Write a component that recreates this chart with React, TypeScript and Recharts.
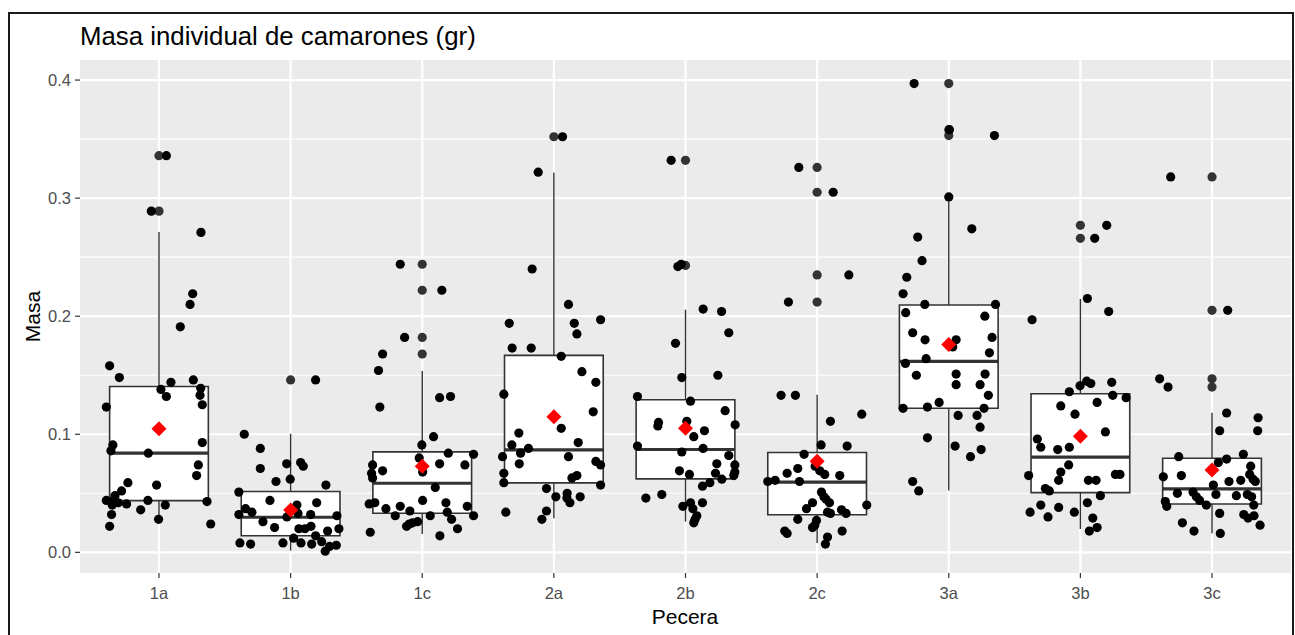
import React from 'react';
import { ComposedChart, Scatter, XAxis, YAxis, CartesianGrid, ReferenceArea, ReferenceLine } from 'recharts';

const groups = ['1a', '1b', '1c', '2a', '2b', '2c', '3a', '3b', '3c'];
const xTicks = [1, 2, 3, 4, 5, 6, 7, 8, 9];
const majorY = [0, 0.1, 0.2, 0.3, 0.4];
const minorY = [0.05, 0.15, 0.25, 0.35];

// masses (gr) and horizontal jitter of each shrimp, per tank
const m1a = [0.336, 0.289, 0.271, 0.219, 0.210, 0.191, 0.158, 0.148, 0.144, 0.146, 0.138, 0.139, 0.132, 0.133, 0.123, 0.125, 0.093, 0.091, 0.086, 0.084, 0.074, 0.065, 0.059, 0.057, 0.052, 0.048, 0.044, 0.044, 0.042, 0.041, 0.040, 0.044, 0.040, 0.043, 0.036, 0.032, 0.028, 0.022, 0.024];
const j1a = [0.056, -0.058, 0.319, 0.256, 0.236, 0.162, -0.375, -0.301, 0.091, 0.261, 0.015, 0.317, 0.056, 0.312, -0.400, 0.329, 0.329, -0.350, -0.365, -0.081, 0.299, 0.286, -0.236, -0.018, -0.284, -0.334, -0.400, -0.344, -0.309, -0.246, -0.355, -0.084, 0.048, 0.365, -0.139, -0.360, -0.003, -0.375, 0.393];
const m1b = [0.146, 0.100, 0.088, 0.071, 0.075, 0.076, 0.073, 0.060, 0.062, 0.057, 0.051, 0.044, 0.042, 0.040, 0.037, 0.032, 0.034, 0.033, 0.026, 0.030, 0.032, 0.031, 0.021, 0.020, 0.020, 0.022, 0.020, 0.014, 0.018, 0.012, 0.008, 0.007, 0.008, 0.008, 0.007, 0.009, 0.005, 0.006, 0.001];
const j1b = [0.190, -0.352, -0.230, -0.230, -0.030, 0.076, 0.096, -0.111, -0.003, 0.268, -0.393, -0.157, 0.198, 0.048, -0.342, -0.393, -0.294, 0.056, -0.210, -0.028, 0.152, 0.352, -0.122, 0.063, 0.109, 0.155, 0.367, 0.190, 0.281, 0.023, -0.385, -0.304, -0.058, 0.079, 0.160, 0.236, 0.296, 0.347, 0.263];
const m1c = [0.244, 0.222, 0.182, 0.168, 0.154, 0.123, 0.131, 0.132, 0.098, 0.091, 0.084, 0.083, 0.080, 0.075, 0.074, 0.074, 0.069, 0.067, 0.068, 0.063, 0.055, 0.041, 0.042, 0.037, 0.044, 0.042, 0.039, 0.039, 0.035, 0.031, 0.031, 0.034, 0.031, 0.028, 0.026, 0.025, 0.024, 0.022, 0.020, 0.017, 0.014];
const j1c = [-0.167, 0.149, -0.134, -0.301, -0.332, -0.322, 0.132, 0.215, 0.086, -0.003, 0.198, 0.390, -0.023, 0.132, 0.324, -0.377, -0.301, -0.385, 0.003, -0.377, 0.099, -0.403, -0.360, -0.276, 0.003, 0.180, 0.342, -0.167, -0.094, -0.205, 0.061, 0.190, 0.390, 0.223, -0.035, -0.073, -0.099, -0.119, 0.268, -0.395, 0.134];
const m2a = [0.352, 0.322, 0.240, 0.210, 0.194, 0.194, 0.197, 0.185, 0.173, 0.173, 0.166, 0.153, 0.144, 0.134, 0.119, 0.105, 0.101, 0.091, 0.093, 0.084, 0.088, 0.081, 0.081, 0.077, 0.074, 0.075, 0.067, 0.063, 0.065, 0.059, 0.057, 0.054, 0.047, 0.050, 0.046, 0.042, 0.047, 0.034, 0.035, 0.028];
const j2a = [0.066, -0.119, -0.165, 0.111, -0.339, 0.155, 0.355, 0.175, -0.317, -0.172, 0.056, 0.213, 0.319, -0.380, 0.299, 0.056, -0.266, -0.319, 0.185, -0.253, -0.193, -0.390, 0.111, 0.319, 0.355, -0.263, -0.380, 0.137, 0.175, -0.380, 0.355, -0.056, 0.015, 0.101, 0.099, 0.122, 0.200, -0.365, -0.056, -0.091];
const m2b = [0.332, 0.242, 0.244, 0.206, 0.204, 0.186, 0.177, 0.148, 0.150, 0.132, 0.128, 0.120, 0.110, 0.107, 0.111, 0.108, 0.098, 0.103, 0.090, 0.085, 0.088, 0.082, 0.075, 0.074, 0.069, 0.066, 0.067, 0.068, 0.065, 0.062, 0.059, 0.056, 0.046, 0.049, 0.042, 0.042, 0.039, 0.037, 0.031, 0.028, 0.025];
const j2b = [-0.109, -0.058, -0.033, 0.134, 0.274, 0.329, -0.076, -0.028, 0.246, -0.365, 0.038, 0.301, -0.205, -0.210, 0.010, 0.377, 0.063, 0.144, -0.365, -0.028, 0.134, 0.329, 0.238, 0.375, -0.046, 0.030, 0.228, 0.375, 0.367, 0.276, 0.185, 0.129, -0.301, -0.180, 0.038, 0.129, -0.020, 0.056, 0.086, 0.073, 0.063];
const m2c = [0.326, 0.305, 0.235, 0.212, 0.133, 0.133, 0.117, 0.111, 0.091, 0.090, 0.083, 0.071, 0.073, 0.067, 0.069, 0.066, 0.065, 0.060, 0.061, 0.060, 0.051, 0.047, 0.045, 0.042, 0.042, 0.037, 0.040, 0.034, 0.033, 0.036, 0.033, 0.028, 0.027, 0.023, 0.021, 0.018, 0.016, 0.018, 0.013, 0.007];
const j2c = [-0.139, 0.122, 0.241, -0.218, -0.274, -0.165, 0.339, 0.101, 0.030, 0.228, -0.099, -0.147, -0.015, -0.228, 0.020, 0.058, 0.172, -0.375, -0.319, -0.134, 0.033, 0.051, 0.068, 0.094, -0.035, -0.081, 0.377, 0.079, 0.101, 0.185, 0.220, -0.147, -0.005, -0.018, -0.035, -0.246, -0.228, 0.190, 0.079, 0.063];
const m3a = [0.397, 0.358, 0.353, 0.301, 0.274, 0.267, 0.247, 0.233, 0.219, 0.210, 0.210, 0.203, 0.200, 0.186, 0.180, 0.180, 0.182, 0.174, 0.169, 0.164, 0.160, 0.150, 0.151, 0.151, 0.142, 0.142, 0.133, 0.127, 0.122, 0.123, 0.122, 0.116, 0.116, 0.106, 0.097, 0.090, 0.087, 0.081, 0.060, 0.052];
const j3a = [-0.263, 0.005, 0.347, 0.000, 0.175, -0.236, -0.203, -0.319, -0.347, -0.182, 0.355, -0.327, 0.274, -0.274, -0.180, 0.056, 0.329, 0.030, 0.309, -0.172, -0.329, -0.246, 0.056, 0.276, 0.056, 0.238, 0.301, -0.073, -0.347, -0.162, 0.268, 0.071, 0.215, 0.238, -0.162, 0.048, 0.246, 0.165, -0.274, -0.228];
const m3b = [0.277, 0.266, 0.215, 0.204, 0.197, 0.141, 0.145, 0.143, 0.136, 0.144, 0.133, 0.131, 0.127, 0.124, 0.117, 0.102, 0.096, 0.089, 0.087, 0.089, 0.074, 0.068, 0.065, 0.061, 0.061, 0.061, 0.066, 0.066, 0.054, 0.052, 0.048, 0.040, 0.042, 0.038, 0.034, 0.030, 0.034, 0.029, 0.018, 0.021];
const j3b = [0.200, 0.109, 0.053, 0.215, -0.367, -0.003, 0.048, 0.079, -0.084, 0.238, 0.246, 0.347, 0.127, -0.149, -0.041, 0.190, -0.327, -0.301, -0.172, -0.084, -0.089, -0.149, -0.393, -0.165, 0.061, 0.119, 0.266, 0.301, -0.266, -0.236, 0.152, -0.301, 0.053, -0.165, -0.382, -0.246, -0.046, 0.094, 0.068, 0.127];
const m3c = [0.318, 0.205, 0.147, 0.140, 0.118, 0.114, 0.103, 0.103, 0.081, 0.083, 0.079, 0.076, 0.073, 0.064, 0.065, 0.066, 0.062, 0.060, 0.061, 0.060, 0.057, 0.050, 0.051, 0.047, 0.044, 0.049, 0.048, 0.049, 0.047, 0.043, 0.039, 0.040, 0.040, 0.033, 0.025, 0.032, 0.029, 0.031, 0.018, 0.016, 0.023];
const j3c = [-0.314, 0.119, -0.398, -0.334, 0.111, 0.350, 0.058, 0.347, -0.253, 0.238, 0.111, 0.048, 0.294, -0.370, -0.233, 0.286, 0.312, 0.329, 0.218, 0.129, 0.010, -0.263, -0.144, -0.119, -0.094, 0.030, 0.185, 0.268, 0.301, -0.355, -0.344, -0.043, 0.317, 0.058, -0.225, 0.241, 0.274, 0.319, -0.137, 0.063, 0.365];

// boxplot stats
const q1 = [0.0438, 0.0141, 0.0331, 0.0588, 0.0622, 0.0319, 0.1221, 0.0506, 0.0410];
const medians = [0.0840, 0.0297, 0.0585, 0.0868, 0.0871, 0.0594, 0.1617, 0.0806, 0.0537];
const q3 = [0.1405, 0.0515, 0.0851, 0.1668, 0.1292, 0.0845, 0.2095, 0.1343, 0.0797];
const whiskerLow = [0.026, 0.0014, 0.0155, 0.0288, 0.026, 0.0079, 0.0523, 0.0198, 0.0161];
const whiskerHigh = [0.2714, 0.1004, 0.1535, 0.3217, 0.2055, 0.1334, 0.3011, 0.2146, 0.1182];
const means = [0.1046, 0.0359, 0.0729, 0.1148, 0.1052, 0.0772, 0.1761, 0.0984, 0.0698];
const outliers = [
    [0.336, 0.289],
    [0.146],
    [0.244, 0.222, 0.182, 0.168],
    [0.352],
    [0.332, 0.243],
    [0.326, 0.305, 0.235, 0.212],
    [0.397, 0.358, 0.353],
    [0.277, 0.266],
    [0.318, 0.205, 0.147, 0.140],
];

const masses = [m1a, m1b, m1c, m2a, m2b, m2c, m3a, m3b, m3c];
const jitters = [j1a, j1b, j1c, j2a, j2b, j2c, j3a, j3b, j3c];

const BOX_HALF = 0.375;
const FONT = '"Liberation Sans", Arial, sans-serif';

const pointData = masses.flatMap((ms, i) => ms.map((m, k) => ({ x: i + 1 + jitters[i][k], y: m })));
const outlierData = outliers.flatMap((os, i) => os.map((o) => ({ x: i + 1, y: o })));
const meanData = means.map((m, i) => ({ x: i + 1, y: m }));

const dot = (color: string) => (props: any) => (
    <circle cx={props.cx} cy={props.cy} r={4.6} fill={color} />
);

const diamond = (props: any) => {
    const { cx, cy } = props;
    const d = 7.5;
    return <polygon points={`${cx},${cy - d} ${cx + d},${cy} ${cx},${cy + d} ${cx - d},${cy}`} fill="#FF0000" />;
};

export default function App() {
    return (
        <div style={{ position: 'absolute', left: 0, top: 0, width: 1295, height: 635, background: '#fff', overflow: 'hidden', fontFamily: FONT }}>
            <div style={{ position: 'absolute', left: 8, top: 12, width: 1286, height: 700, border: '2px solid #1a1a1a', boxSizing: 'border-box' }} />
            <div style={{ position: 'absolute', left: 0, top: 0 }}>
                <ComposedChart width={1295} height={635} margin={{ top: 60, right: 4, bottom: 0, left: 0 }}>
                    <CartesianGrid fill="#EBEBEB" fillOpacity={1} stroke="#FFFFFF" strokeWidth={2.2} horizontalValues={majorY} verticalValues={xTicks} />
                    <CartesianGrid stroke="#FFFFFF" strokeWidth={1.1} horizontalValues={minorY} vertical={false} />
                    <XAxis
                        type="number"
                        dataKey="x"
                        domain={[0.4, 9.6]}
                        ticks={xTicks}
                        interval={0}
                        allowDataOverflow
                        height={62}
                        axisLine={false}
                        tickSize={5}
                        tickMargin={9}
                        tickLine={{ stroke: '#333333', strokeWidth: 1.2 }}
                        tick={{ fill: '#4D4D4D', fontSize: 16.5, fontFamily: FONT }}
                        tickFormatter={(v: number) => groups[v - 1]}
                    />
                    <YAxis
                        type="number"
                        dataKey="y"
                        domain={[-0.0175, 0.417]}
                        ticks={majorY}
                        interval={0}
                        allowDataOverflow
                        width={80}
                        axisLine={false}
                        tickSize={5}
                        tickMargin={4}
                        tickLine={{ stroke: '#333333', strokeWidth: 1.2 }}
                        tick={{ fill: '#4D4D4D', fontSize: 16.5, fontFamily: FONT }}
                        tickFormatter={(v: number) => v.toFixed(1)}
                    />
                    {xTicks.map((x, i) => (
                        <ReferenceLine
                            key={`wl-${i}`}
                            segment={[{ x, y: whiskerLow[i] }, { x, y: q1[i] }]}
                            stroke="#333333"
                            strokeWidth={1.4}
                            zIndex={90}
                        />
                    ))}
                    {xTicks.map((x, i) => (
                        <ReferenceLine
                            key={`wh-${i}`}
                            segment={[{ x, y: q3[i] }, { x, y: whiskerHigh[i] }]}
                            stroke="#333333"
                            strokeWidth={1.4}
                            zIndex={90}
                        />
                    ))}
                    {xTicks.map((x, i) => (
                        <ReferenceArea
                            key={`box-${i}`}
                            x1={x - BOX_HALF}
                            x2={x + BOX_HALF}
                            y1={q1[i]}
                            y2={q3[i]}
                            fill="#FFFFFF"
                            fillOpacity={1}
                            stroke="#333333"
                            strokeWidth={1.6}
                            zIndex={100}
                        />
                    ))}
                    {xTicks.map((x, i) => (
                        <ReferenceLine
                            key={`med-${i}`}
                            segment={[{ x: x - BOX_HALF, y: medians[i] }, { x: x + BOX_HALF, y: medians[i] }]}
                            stroke="#333333"
                            strokeWidth={3.2}
                            zIndex={110}
                        />
                    ))}
                    <Scatter data={outlierData} shape={dot('#333333')} isAnimationActive={false} zIndex={600} />
                    <Scatter data={pointData} shape={dot('#000000')} isAnimationActive={false} zIndex={610} />
                    <Scatter data={meanData} shape={diamond} isAnimationActive={false} zIndex={620} />
                </ComposedChart>
            </div>
            <svg width={1295} height={635} style={{ position: 'absolute', left: 0, top: 0, pointerEvents: 'none' }}>
                <text x={80} y={45} fontSize={25.8} fill="#000" fontFamily={FONT}>Masa individual de camarones (gr)</text>
                <text x={685} y={624} fontSize={21} fill="#000" textAnchor="middle" fontFamily={FONT}>Pecera</text>
                <text transform="translate(40,316.5) rotate(-90)" fontSize={21} fill="#000" textAnchor="middle" fontFamily={FONT}>Masa</text>
            </svg>
        </div>
    );
}
